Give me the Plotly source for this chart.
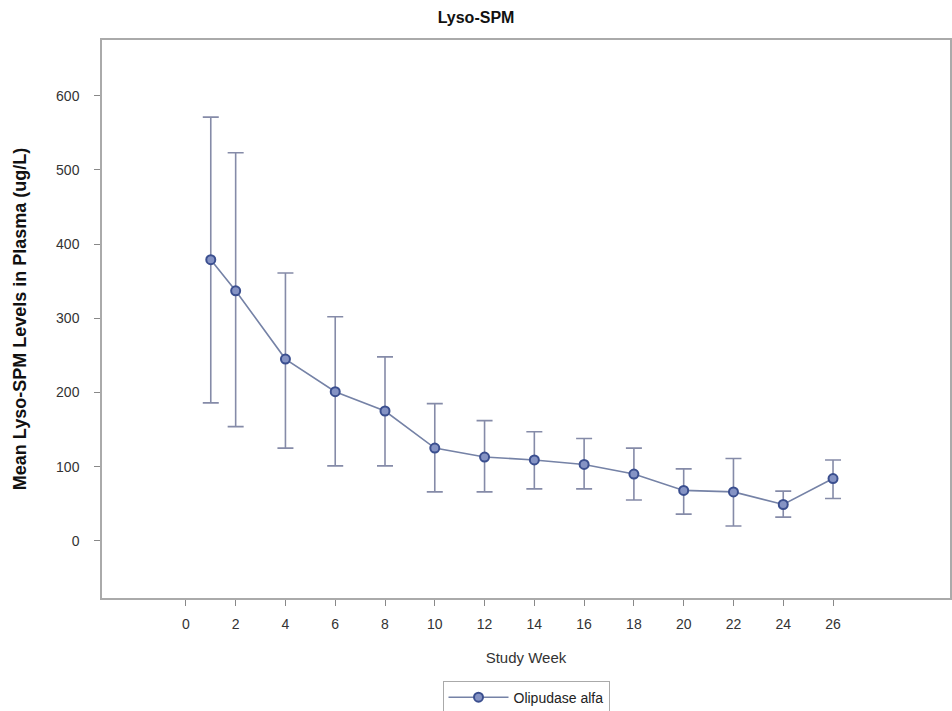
import plotly.graph_objects as go

weeks = [1, 2, 4, 6, 8, 10, 12, 14, 16, 18, 20, 22, 24, 26]
mean_vals = [379, 337, 245, 201, 175, 125, 113, 109, 103, 90, 68, 66, 49, 84]
upper_vals = [571, 523, 361, 302, 248, 185, 162, 147, 138, 125, 97, 111, 67, 109]
lower_vals = [186, 154, 125, 101, 101, 66, 66, 70, 70, 55, 36, 20, 32, 57]
x_ticks = list(range(0, 27, 2))
y_ticks = [0, 100, 200, 300, 400, 500, 600]

err_plus = [u - m for u, m in zip(upper_vals, mean_vals)]
err_minus = [m - l for m, l in zip(mean_vals, lower_vals)]

FONT = "Liberation Sans Narrow, Liberation Sans, Arial, sans-serif"
line_col = "#7582a6"
marker_col = "#3b4f8f"

fig = go.Figure()
fig.add_trace(go.Scatter(
    x=weeks, y=mean_vals, mode="lines+markers", name="Olipudase alfa",
    line=dict(color=line_col, width=1.6),
    marker=dict(symbol="circle", size=9, color="#8593c4",
                line=dict(color=marker_col, width=2)),
    error_y=dict(type="data", symmetric=False, array=err_plus, arrayminus=err_minus,
                 color="#858ba8", thickness=1.6, width=8),
))

fig.update_layout(
    width=952, height=711,
    margin=dict(l=102, r=2, t=40, b=113, autoexpand=False),
    paper_bgcolor="white", plot_bgcolor="white",
    font=dict(family=FONT, size=14, color="#333333"),
    title=dict(text="<b>Lyso-SPM</b>", x=0.5, xanchor="center", y=0.975, yanchor="middle",
               font=dict(family=FONT, size=16, color="#111111")),
    showlegend=True,
    legend=dict(orientation="h", x=0.5, xanchor="center", y=-0.148, yanchor="top",
                bordercolor="#aaaaaa", borderwidth=1, itemwidth=60,
                font=dict(size=14, color="#222222")),
)
fig.update_xaxes(
    range=[-3.37, 30.7], tickvals=x_ticks, ticks="outside", ticklen=6, tickcolor="#888888",
    ticklabelstandoff=6,
    showline=True, linecolor="#aaaaaa", linewidth=1.5, mirror=True, showgrid=False, zeroline=False,
    title=dict(text="Study Week", font=dict(size=15, color="#333333"), standoff=22),
)
fig.update_yaxes(
    range=[-77, 675], tickvals=y_ticks, ticks="outside", ticklen=6, tickcolor="#888888",
    ticklabelstandoff=12,
    showline=True, linecolor="#aaaaaa", linewidth=1.5, mirror=True, showgrid=False, zeroline=False,
    title=dict(text="<b>Mean Lyso-SPM Levels in Plasma (ug/L)</b>", font=dict(size=18, color="#111111"), standoff=25),
)

fig.write_html("out.html")
